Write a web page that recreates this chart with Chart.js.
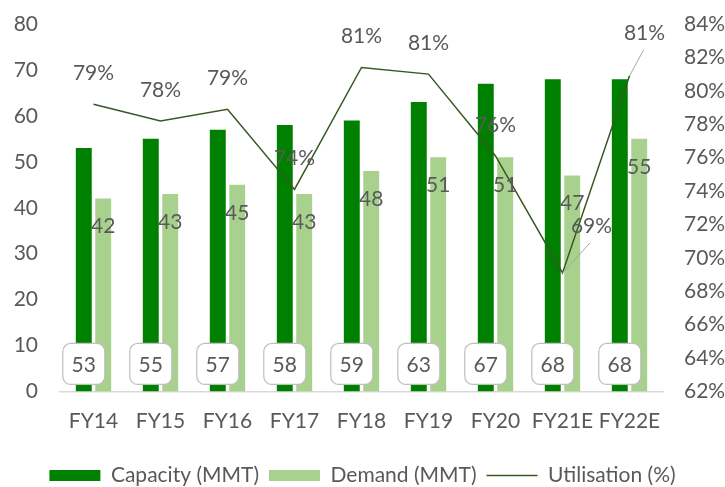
<!DOCTYPE html>
<html>
<head>
<meta charset="utf-8">
<script src="https://cdn.jsdelivr.net/npm/chart.js@4/dist/chart.umd.min.js"></script>
<style>
  html, body { margin: 0; padding: 0; background: #fff; }
  #wrap { width: 725px; height: 487px; }
</style>
</head>
<body>
<div id="wrap"><canvas id="capChart"></canvas></div>
<script>
// chart data
const years = ['FY14', 'FY15', 'FY16', 'FY17', 'FY18', 'FY19', 'FY20', 'FY21E', 'FY22E']
const capacity = [53, 55, 57, 58, 59, 63, 67, 68, 68]
const demand = [42, 43, 45, 43, 48, 51, 51, 47, 55]
const utilisation = [79.2, 78.2, 78.9, 74.1, 81.4, 81.0, 76.1, 69.1, 80.9]

const FONT = 'Lato, "Liberation Sans", sans-serif'
const FSIZE = 21
const GREY = '#595959'

// some utilisation labels are pulled aside with a leader line
const utilLabelShift = { 7: [29, -47], 8: [15, -43] }

const labelPlugin = {
    id: 'labels',
    afterDatasetsDraw(chart) {
        const ctx = chart.ctx
        const y = chart.scales.y
        const capMeta = chart.getDatasetMeta(0)
        const demMeta = chart.getDatasetMeta(1)
        const utilMeta = chart.getDatasetMeta(2)
        ctx.save()
        ctx.font = FSIZE + 'px ' + FONT
        ctx.fillStyle = GREY
        ctx.textAlign = 'center'
        ctx.textBaseline = 'middle'

        // demand values inside the bars
        demMeta.data.forEach((bar, i) => {
            ctx.fillText(demand[i], bar.x, bar.y + 28)
        })

        // capacity values in boxes at the bottom
        capMeta.data.forEach((bar, i) => {
            const cy = y.getPixelForValue(6)
            ctx.beginPath()
            ctx.roundRect(bar.x - 21, cy - 20.5, 42, 41, 8)
            ctx.fillStyle = '#fff'
            ctx.fill()
            ctx.lineWidth = 1.2
            ctx.strokeStyle = '#BFBFBF'
            ctx.stroke()
            ctx.fillStyle = GREY
            ctx.fillText(capacity[i], bar.x, cy + 1)
        })

        // utilisation labels
        utilMeta.data.forEach((pt, i) => {
            const txt = Math.round(utilisation[i]) + '%'
            const shift = utilLabelShift[i]
            if (shift) {
                ctx.beginPath()
                ctx.moveTo(pt.x, pt.y)
                ctx.lineTo(pt.x + shift[0] * 0.95, pt.y + shift[1] + 17)
                ctx.lineWidth = 1
                ctx.strokeStyle = '#A6A6A6'
                ctx.stroke()
                ctx.fillText(txt, pt.x + shift[0], pt.y + shift[1])
            } else {
                ctx.fillText(txt, pt.x, pt.y - 31)
            }
        })
        ctx.restore()
    }
}

// keep the y axes from pushing the plot area down
function fixYAxis(width) {
    return s => {
        s.width = width
        s.paddingTop = 0
        s.paddingBottom = 0
    }
}

new Chart(document.getElementById('capChart'), {
    type: 'bar',
    data: {
        labels: years,
        datasets: [{
            label: 'Capacity (MMT)',
            data: capacity,
            backgroundColor: '#008000',
            yAxisID: 'y',
            order: 1
        }, {
            label: 'Demand (MMT)',
            data: demand,
            backgroundColor: '#A9D18E',
            yAxisID: 'y',
            order: 1
        }, {
            type: 'line',
            label: 'Utilisation (%)',
            data: utilisation,
            borderColor: '#385723',
            backgroundColor: '#385723',
            borderWidth: 1.5,
            pointRadius: 0,
            tension: 0,
            yAxisID: 'y1',
            order: 0
        }]
    },
    options: {
        responsive: true,
        maintainAspectRatio: false,
        animation: false,
        layout: { padding: { top: 24, bottom: -9, left: 0, right: 0 } },
        datasets: {
            bar: { categoryPercentage: 0.58, barPercentage: 0.82 }
        },
        scales: {
            x: {
                grid: { display: false, drawTicks: false },
                border: { color: '#D9D9D9', width: 1.5 },
                ticks: { color: GREY, font: { family: FONT, size: FSIZE }, padding: 17, maxRotation: 0 },
                afterFit(s) { s.height = 63.5 }
            },
            y: {
                position: 'left',
                min: 0, max: 80,
                grid: { display: false, drawTicks: false },
                border: { display: false },
                ticks: { stepSize: 10, color: GREY, font: { family: FONT, size: FSIZE }, padding: 22 },
                afterFit: fixYAxis(60)
            },
            y1: {
                position: 'right',
                min: 62, max: 84,
                grid: { display: false, drawTicks: false },
                border: { display: false },
                ticks: { stepSize: 2, color: GREY, font: { family: FONT, size: FSIZE }, padding: 21,
                    callback: v => v + '%' },
                afterFit: fixYAxis(62)
            }
        },
        plugins: {
            tooltip: { enabled: false },
            legend: {
                position: 'bottom',
                labels: {
                    color: GREY,
                    font: { family: FONT, size: FSIZE },
                    usePointStyle: true,
                    pointStyleWidth: 51,
                    boxHeight: 11,
                    padding: 10,
                    sort: (a, b) => a.datasetIndex - b.datasetIndex,
                    generateLabels(chart) {
                        const items = Chart.defaults.plugins.legend.labels.generateLabels(chart)
                        items.forEach(it => {
                            it.pointStyle = it.datasetIndex === 2 ? 'line' : 'rect'
                            if (it.datasetIndex !== 2) it.lineWidth = 0
                        })
                        return items
                    }
                }
            }
        }
    },
    plugins: [labelPlugin]
});
</script>
</body>
</html>
